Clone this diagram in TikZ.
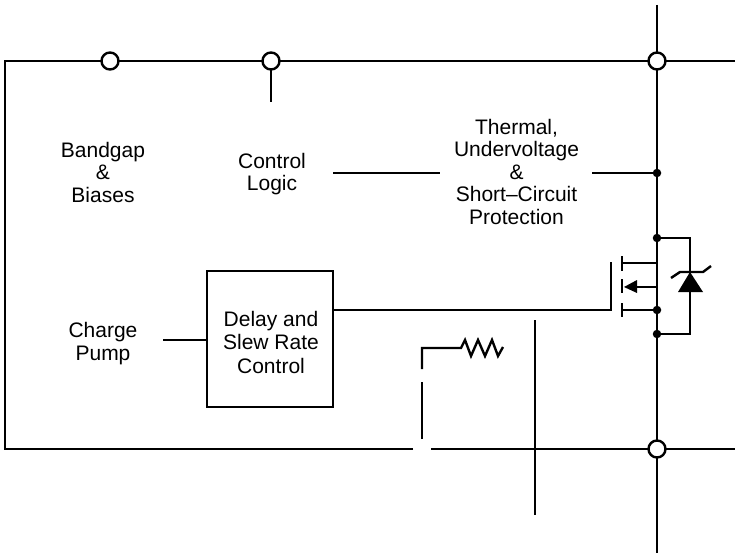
\documentclass[tikz,border=0pt]{standalone}
\usepackage{fontspec}
\setmainfont{Liberation Sans}
\begin{document}
\begin{tikzpicture}[x=1pt,y=-1pt,
  wire/.style={line width=2.4pt,line cap=butt,line join=miter},
  term/.style={circle,draw,fill=white,line width=2.4pt,minimum size=17pt,inner sep=0pt},
  dotn/.style={circle,fill=black,minimum size=8.5pt,inner sep=0pt},
  lab/.style={align=center,font=\fontsize{21}{22.5}\selectfont,inner sep=0pt},
  boxn/.style={draw,line width=2.4pt,minimum width=126pt,minimum height=136pt,inner sep=0pt}]
\useasboundingbox (0,0) rectangle (735,559);
% named points
\coordinate (tl) at (5,61); \coordinate (bl) at (5,449);
\coordinate (tr) at (735,61); \coordinate (br) at (735,449);
\coordinate (vtop) at (657,5); \coordinate (vbot) at (657,553);
\coordinate (stub) at (271,102);
\coordinate (gapL) at (413,449); \coordinate (gapR) at (431,449);
\node[lab] (bandgap) at (103,172) {Bandgap\\\&\\Biases};
\node[lab] (logic) at (272,174) {Control\\Logic};
\node[lab] (thermal) at (516.5,171.5) {Thermal,\\Undervoltage\\\&\\Short--Circuit\\Protection};
\node[lab] (pump) at (103,343.5) {Charge\\Pump};
\node[boxn] (delay) at (270,339) {};
\node[lab,font=\fontsize{21}{23.5}\selectfont] (delaytxt) at (271,342) {Delay and\\Slew Rate\\Control};
% frame
\draw[wire] (gapL) -- (bl) -- (tl) -- (tr);
\draw[wire] (gapR) -- (br);
\draw[wire] (vtop) -- (vbot);
\draw[wire] (271,61) -- (stub);
\node[term] (t1) at (110,61) {};
\node[term] (t2) at (271,61) {};
\node[term] (t3) at (657,61) {};
\node[term] (t4) at (657,449) {};
% links
\coordinate (pumpR) at (163,340);
\draw[wire] (pumpR) -- (pumpR -| delay.west);
\coordinate (logicR) at (333,173); \coordinate (thermL) at (440,173);
\coordinate (thermR) at (592,173);
\draw[wire] (logicR) -- (thermL);
\node[dotn] (d0) at (657,173) {};
\draw[wire] (thermR) -- (d0);
% MOSFET
\coordinate (gtop) at (611,262); \coordinate (gbot) at (611,310);
\draw[wire] (delay.east |- gbot) -- (gbot) -- (gtop);
\foreach \a/\b in {256/271,279/293,303/317}
  \draw[wire] (622,\a) -- (622,\b);
\node[dotn] (d1) at (657,238) {};
\node[dotn] (d2) at (657,310) {};
\node[dotn] (d3) at (657,334) {};
\draw[wire] (622,263) -- (657,263);
\draw[wire] (636,287) -- (657,287);
\fill (624,287) -- (637,280) -- (637,293) -- cycle;
\draw[wire] (622,310) -- (d2);
% Zener
\draw[wire] (d1) -- (690,238) -- (690,334) -- (d3);
\fill (690,272) -- (703,292) -- (678,292) -- cycle;
\draw[wire] (671,278) -- (680,272) -- (703,272) -- (711,266);
% sense / resistor
\coordinate (s1) at (422,439); \coordinate (s2) at (422,382);
\coordinate (s3) at (422,369); \coordinate (s4) at (422,348);
\coordinate (rs) at (461,348);
\draw[wire] (s1) -- (s2);
\draw[wire] (s3) -- (s4) -- (rs) -- (465,340) -- (471,356) -- (478,340) -- (485,356) -- (492,340) -- (498,356) -- (503,347);
\coordinate (v2a) at (535,320); \coordinate (v2b) at (535,515);
\draw[wire] (v2a) -- (v2b);
\end{tikzpicture}
\end{document}
